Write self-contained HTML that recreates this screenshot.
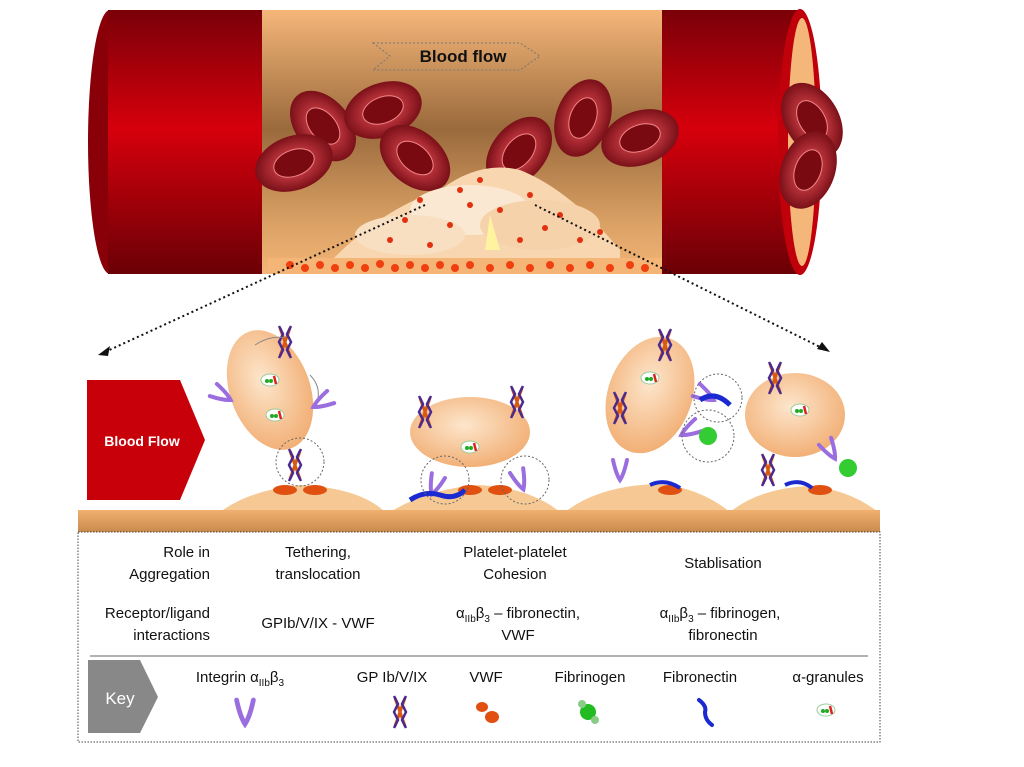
<!DOCTYPE html>
<html><head><meta charset="utf-8"><style>
html,body{margin:0;padding:0;background:#fff}
svg{display:block}
text{font-family:"Liberation Sans",Arial,sans-serif;fill:#111}
</style></head><body>
<svg width="1024" height="767" viewBox="0 0 1024 767" xmlns="http://www.w3.org/2000/svg">
<defs>
<linearGradient id="red" x1="0" y1="0" x2="0" y2="1">
<stop offset="0" stop-color="#7a0008"/><stop offset="0.45" stop-color="#d6000c"/><stop offset="1" stop-color="#6a0006"/></linearGradient>
<linearGradient id="tan" x1="0" y1="0" x2="0" y2="1">
<stop offset="0" stop-color="#f5b679"/><stop offset="0.45" stop-color="#9a6a3c"/><stop offset="0.8" stop-color="#d9a064"/><stop offset="1" stop-color="#f4b577"/></linearGradient>
<radialGradient id="rbc" cx="0.5" cy="0.5" r="0.5"><stop offset="0.5" stop-color="#b8323a"/><stop offset="1" stop-color="#7a1018"/></radialGradient>
<radialGradient id="plt" cx="0.45" cy="0.4" r="0.6"><stop offset="0" stop-color="#fde6cc"/><stop offset="1" stop-color="#f2b077"/></radialGradient>
<linearGradient id="sub" x1="0" y1="0" x2="0" y2="1"><stop offset="0" stop-color="#f0b070"/><stop offset="1" stop-color="#c98a4c"/></linearGradient>
<g id="cell"><ellipse rx="40" ry="27" fill="url(#rbc)"/><ellipse rx="21" ry="13" fill="#7a0a12" stroke="#e88" stroke-width="1"/></g>
<g id="gp"><path d="M-5,-14 L5,14 M5,-14 L-5,14" stroke="#d85a10" stroke-width="3"/><path d="M-6,-16 L-2,-8 L-6,0 L-2,8 L-6,16 M6,-16 L2,-8 L6,0 L2,8 L6,16" stroke="#4a2a90" stroke-width="2.5" fill="none"/></g>
<g id="intg"><path d="M-7,-10 Q-4,4 0,10 Q4,4 7,-10" stroke="#9b6ee0" stroke-width="4" fill="none" stroke-linecap="round"/></g>
<g id="vwf"><ellipse cx="-5" cy="-5" rx="6" ry="5" fill="#e05010"/><ellipse cx="5" cy="5" rx="7" ry="6" fill="#e05010"/></g>
<g id="gran"><ellipse rx="9" ry="6" fill="#fff" stroke="#9c9"/><circle cx="-3" cy="1" r="2" fill="#2a2"/><circle cx="1" cy="1" r="2" fill="#2a2"/><path d="M4,-4 L6,4" stroke="#d22" stroke-width="2.5"/></g>
</defs>

<ellipse cx="110" cy="142" rx="22" ry="132" fill="#8a0008"/>
<rect x="108" y="10" width="160" height="264" fill="url(#red)"/>
<rect x="262" y="10" width="406" height="264" fill="url(#tan)"/>
<rect x="662" y="10" width="138" height="264" fill="url(#red)"/>
<ellipse cx="800" cy="142" rx="22" ry="133" fill="#c0000a"/>
<ellipse cx="802" cy="142" rx="14" ry="124" fill="#f5b679"/>
<path d="M373,43 L520,43 L540,56 L520,70 L373,70 L390,56 Z" fill="none" stroke="#777" stroke-dasharray="2,2"/>
<text x="463" y="62" font-size="17" font-weight="bold" text-anchor="middle">Blood flow</text>
<use href="#cell" transform="translate(323,126) rotate(50)"/>
<use href="#cell" transform="translate(383,110) rotate(-20)"/>
<use href="#cell" transform="translate(294,163) rotate(-20)"/>
<use href="#cell" transform="translate(415,158) rotate(40)"/>
<use href="#cell" transform="translate(519,152) rotate(-50)"/>
<use href="#cell" transform="translate(583,118) rotate(-70)"/>
<use href="#cell" transform="translate(640,138) rotate(-20)"/>
<use href="#cell" transform="translate(812,120) rotate(60)"/>
<use href="#cell" transform="translate(808,170) rotate(-70)"/>
<path d="M330,262 Q380,210 440,190 Q480,160 520,170 Q570,190 620,250 L620,262 Z" fill="#f8d6b0"/>
<ellipse cx="470" cy="210" rx="60" ry="25" fill="#fbe8d2"/>
<ellipse cx="540" cy="225" rx="60" ry="25" fill="#f6d2ab"/>
<ellipse cx="410" cy="235" rx="55" ry="20" fill="#f9dfc2"/>
<path d="M490,215 L500,250 L485,250 Z" fill="#fff3a0"/>
<g fill="#e03010">
<circle cx="420" cy="200" r="3"/><circle cx="460" cy="190" r="3"/><circle cx="500" cy="210" r="3"/><circle cx="530" cy="195" r="3"/><circle cx="560" cy="215" r="3"/><circle cx="450" cy="225" r="3"/><circle cx="390" cy="240" r="3"/><circle cx="580" cy="240" r="3"/><circle cx="520" cy="240" r="3"/><circle cx="430" cy="245" r="3"/><circle cx="600" cy="232" r="3"/><circle cx="480" cy="180" r="3"/><circle cx="470" cy="205" r="3"/><circle cx="545" cy="228" r="3"/><circle cx="405" cy="220" r="3"/>
</g>
<rect x="268" y="258" width="394" height="14" fill="#f4b577"/>
<g fill="#f04010">
<circle cx="290" cy="265" r="4"/><circle cx="305" cy="268" r="4"/><circle cx="320" cy="265" r="4"/><circle cx="335" cy="268" r="4"/><circle cx="350" cy="265" r="4"/><circle cx="365" cy="268" r="4"/><circle cx="380" cy="264" r="4"/><circle cx="395" cy="268" r="4"/><circle cx="410" cy="265" r="4"/><circle cx="425" cy="268" r="4"/><circle cx="440" cy="265" r="4"/><circle cx="455" cy="268" r="4"/><circle cx="470" cy="265" r="4"/><circle cx="490" cy="268" r="4"/><circle cx="510" cy="265" r="4"/><circle cx="530" cy="268" r="4"/><circle cx="550" cy="265" r="4"/><circle cx="570" cy="268" r="4"/><circle cx="590" cy="265" r="4"/><circle cx="610" cy="268" r="4"/><circle cx="630" cy="265" r="4"/><circle cx="645" cy="268" r="4"/>
</g>
<path d="M425,205 L105,352" stroke="#111" stroke-width="2" stroke-dasharray="2,3"/>
<path d="M535,205 L822,348" stroke="#111" stroke-width="2" stroke-dasharray="2,3"/>
<path d="M98,355 L110,346 L108,356 Z" fill="#111"/>
<path d="M830,352 L817,349 L822,342 Z" fill="#111"/>

<path d="M87,380 L180,380 L205,440 L180,500 L87,500 Z" fill="#c8000a"/>
<text x="142" y="446" font-size="14" font-weight="bold" text-anchor="middle" style="fill:#fff">Blood Flow</text>

<path d="M220,512 Q250,490 300,485 Q360,488 385,512 Z" fill="#f6c994"/>
<path d="M390,512 Q430,488 480,485 Q530,488 560,512 Z" fill="#f6c994"/>
<path d="M565,512 Q600,485 660,484 Q700,488 730,512 Z" fill="#f6c994"/>
<path d="M730,512 Q760,488 810,486 Q850,490 878,512 Z" fill="#f6c994"/>
<rect x="78" y="510" width="802" height="22" fill="url(#sub)"/>
<ellipse cx="270" cy="390" rx="40" ry="62" transform="rotate(-20 270 390)" fill="url(#plt)"/>
<ellipse cx="470" cy="432" rx="60" ry="35" fill="url(#plt)"/>
<ellipse cx="650" cy="395" rx="42" ry="60" transform="rotate(20 650 395)" fill="url(#plt)"/>
<ellipse cx="795" cy="415" rx="50" ry="42" fill="url(#plt)"/>
<use href="#gp" transform="translate(285,342)"/><use href="#gp" transform="translate(295,465)"/>
<use href="#gp" transform="translate(425,412)"/><use href="#gp" transform="translate(517,402)"/>
<use href="#gp" transform="translate(620,408)"/><use href="#gp" transform="translate(665,345)"/>
<use href="#gp" transform="translate(775,378)"/><use href="#gp" transform="translate(768,470)"/>
<use href="#intg" transform="translate(222,395) rotate(-60)"/><use href="#intg" transform="translate(322,402) rotate(60)"/>
<use href="#intg" transform="translate(435,485) rotate(20)"/><use href="#intg" transform="translate(520,480) rotate(-20)"/>
<use href="#intg" transform="translate(620,470)"/><use href="#intg" transform="translate(705,395) rotate(-60)"/>
<use href="#intg" transform="translate(690,430) rotate(60)"/><use href="#intg" transform="translate(830,450) rotate(-30)"/>
<use href="#gran" transform="translate(270,380)"/><use href="#gran" transform="translate(275,415)"/>
<use href="#gran" transform="translate(470,447)"/><use href="#gran" transform="translate(650,378)"/>
<use href="#gran" transform="translate(800,410)"/>
<g fill="#e05010"><ellipse cx="285" cy="490" rx="12" ry="5"/><ellipse cx="315" cy="490" rx="12" ry="5"/><ellipse cx="470" cy="490" rx="12" ry="5"/><ellipse cx="500" cy="490" rx="12" ry="5"/><ellipse cx="670" cy="490" rx="12" ry="5"/><ellipse cx="820" cy="490" rx="12" ry="5"/></g>
<path d="M410,500 Q425,490 440,495 Q455,500 465,490" stroke="#1a2ad0" stroke-width="5" fill="none"/>
<path d="M650,485 Q665,478 680,488" stroke="#1a2ad0" stroke-width="4" fill="none"/>
<path d="M785,485 Q800,478 812,488" stroke="#1a2ad0" stroke-width="4" fill="none"/>
<path d="M700,400 Q715,390 730,405" stroke="#1a2ad0" stroke-width="5" fill="none"/>
<circle cx="708" cy="436" r="9" fill="#3c3"/><circle cx="848" cy="468" r="9" fill="#3c3"/>
<g fill="none" stroke="#666" stroke-dasharray="2,2">
<circle cx="300" cy="462" r="24"/><circle cx="445" cy="480" r="24"/><circle cx="525" cy="480" r="24"/><circle cx="718" cy="398" r="24"/><circle cx="708" cy="436" r="26"/>
</g>
<path d="M255,345 Q270,335 285,338" stroke="#888" fill="none"/><path d="M310,375 Q320,385 318,398" stroke="#888" fill="none"/>

<rect x="78" y="532" width="802" height="210" fill="#fff" stroke="#444" stroke-dasharray="1.5,1.5"/>
<g font-size="15">
<text x="210" y="557" text-anchor="end">Role in</text>
<text x="210" y="579" text-anchor="end">Aggregation</text>
<text x="318" y="557" text-anchor="middle">Tethering,</text>
<text x="318" y="579" text-anchor="middle">translocation</text>
<text x="515" y="557" text-anchor="middle">Platelet-platelet</text>
<text x="515" y="579" text-anchor="middle">Cohesion</text>
<text x="723" y="568" text-anchor="middle">Stablisation</text>
<text x="210" y="618" text-anchor="end">Receptor/ligand</text>
<text x="210" y="640" text-anchor="end">interactions</text>
<text x="318" y="628" text-anchor="middle">GPIb/V/IX - VWF</text>
<text x="518" y="618" text-anchor="middle">α<tspan font-size="10" dy="4">IIb</tspan><tspan dy="-4">β</tspan><tspan font-size="10" dy="4">3</tspan><tspan dy="-4"> – fibronectin,</tspan></text>
<text x="518" y="640" text-anchor="middle">VWF</text>
<text x="720" y="618" text-anchor="middle">α<tspan font-size="10" dy="4">IIb</tspan><tspan dy="-4">β</tspan><tspan font-size="10" dy="4">3</tspan><tspan dy="-4"> – fibrinogen,</tspan></text>
<text x="723" y="640" text-anchor="middle">fibronectin</text>
</g>
<line x1="90" y1="656" x2="868" y2="656" stroke="#999" stroke-width="1.5"/>
<path d="M88,660 L140,660 L158,697 L140,733 L88,733 Z" fill="#888"/>
<text x="120" y="704" font-size="17" text-anchor="middle" style="fill:#fff">Key</text>
<g font-size="15">
<text x="240" y="682" text-anchor="middle">Integrin α<tspan font-size="10" dy="4">IIb</tspan><tspan dy="-4">β</tspan><tspan font-size="10" dy="4">3</tspan></text>
<text x="392" y="682" text-anchor="middle">GP Ib/V/IX</text>
<text x="486" y="682" text-anchor="middle">VWF</text>
<text x="590" y="682" text-anchor="middle">Fibrinogen</text>
<text x="700" y="682" text-anchor="middle">Fibronectin</text>
<text x="828" y="682" text-anchor="middle">α-granules</text>
</g>
<use href="#intg" transform="translate(245,712) scale(1.2)"/>
<use href="#gp" transform="translate(400,712)"/>
<use href="#vwf" transform="translate(487,712)"/>
<circle cx="588" cy="712" r="8" fill="#2b2"/><circle cx="582" cy="704" r="4" fill="#8c8"/><circle cx="595" cy="720" r="4" fill="#8c8"/>
<path d="M459,700 Q467,706 465,712 Q465,720 472,725" transform="translate(240,0)" stroke="#1a2ad0" stroke-width="4" fill="none" stroke-linecap="round"/>
<use href="#gran" transform="translate(826,710)"/>
</svg>
</body></html>
